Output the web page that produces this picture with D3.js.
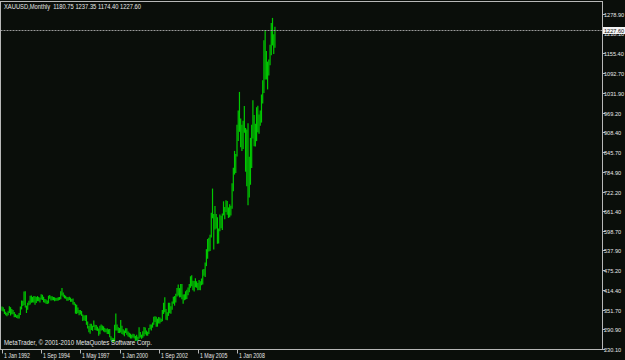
<!DOCTYPE html>
<html lang="en">
<head>
    <meta charset="UTF-8">
    <title>XAUUSD,Monthly</title>
    <script src="https://d3js.org/d3.v7.min.js"></script>
    <style>
        body {
            margin: 0;
            padding: 0;
            background: #0a0e0a;
        }
        svg text {
            font-family: "Liberation Sans", Arial, sans-serif;
            fill: #e8e8e8;
        }
        .ylab { font-size: 5.6px; }
        .xlab { font-size: 6.4px; }
    </style>
</head>
<body>
    <div id="chart"></div>

    <script>
        // monthly bars, starting Jan 1992 (index 0)
        const highs = [
            360, 358, 352, 344, 340, 345, 361, 358, 352, 349, 343, 337,   // 1992
            333, 334, 340, 360, 379, 378, 407, 408, 363, 372, 378, 394,   // 1993
            395, 390, 393, 392, 390, 393, 390, 388, 399, 397, 391, 384,   // 1994
            382, 379, 394, 396, 392, 392, 390, 389, 387, 388, 389, 390,   // 1995
            408, 418, 404, 397, 394, 390, 389, 391, 388, 384, 385, 374,   // 1996
            369, 366, 357, 349, 349, 346, 335, 332, 333, 333, 313, 299,   // 1997
            306, 306, 300, 316, 303, 302, 297, 291, 300, 304, 301, 298,   // 1998
            293, 290, 292, 289, 290, 267, 262, 261, 303, 338, 304, 295,   // 1999
            293, 318, 300, 289, 285, 292, 292, 282, 278, 275, 272, 275,   // 2000
            273, 268, 272, 265, 295, 280, 272, 283, 296, 294, 285, 281,   // 2001
            293, 304, 304, 310, 328, 330, 328, 322, 327, 326, 322, 349,   // 2002
            372, 389, 352, 342, 372, 372, 361, 376, 391, 393, 400, 418,   // 2003
            429, 418, 431, 431, 398, 399, 408, 413, 420, 431, 455, 458,   // 2004
            441, 440, 449, 439, 434, 443, 439, 448, 476, 478, 498, 540,   // 2005
            572, 576, 585, 654, 730, 650, 675, 650, 640, 605, 649, 645,   // 2006
            652, 690, 672, 693, 691, 671, 681, 676, 747, 795, 848, 838,   // 2007
            930, 975, 1033, 950, 930, 943, 989, 920, 915, 935, 830, 889,  // 2008
            930, 1007, 961, 933, 985, 990, 962, 975, 1025, 1070, 1195, 1227, // 2009
            1161, 1128, 1135, 1181, 1249, 1265, 1214, 1237.35             // 2010
        ];
        const lows = [
            350, 348, 340, 336, 333, 336, 343, 335, 339, 339, 330, 330,
            327, 326, 326, 337, 354, 365, 368, 360, 343, 353, 367, 370,
            375, 376, 376, 369, 374, 380, 380, 376, 385, 384, 377, 375,
            372, 371, 373, 388, 382, 383, 383, 380, 381, 381, 382, 384,
            386, 398, 394, 389, 388, 381, 381, 384, 378, 378, 370, 367,
            341, 340, 343, 336, 338, 334, 318, 320, 318, 306, 294, 283,
            278, 290, 287, 299, 290, 288, 287, 272, 276, 288, 289, 285,
            283, 283, 277, 277, 267, 257, 252, 252, 254, 288, 288, 280,
            280, 282, 277, 275, 270, 280, 275, 269, 267, 263, 263, 266,
            263, 255, 256, 255, 262, 266, 262, 265, 270, 276, 272, 272,
            277, 292, 288, 297, 306, 315, 300, 300, 310, 310, 315, 317,
            340, 345, 322, 320, 334, 342, 341, 353, 372, 366, 376, 395,
            398, 392, 392, 386, 372, 383, 385, 387, 399, 408, 422, 427,
            414, 410, 424, 422, 414, 415, 414, 430, 432, 460, 456, 490,
            513, 536, 537, 580, 640, 542, 605, 608, 560, 561, 599, 609,
            603, 649, 637, 660, 651, 641, 643, 649, 670, 725, 777, 782,
            834, 882, 911, 863, 851, 857, 908, 786, 740, 681, 705, 745,
            798, 890, 866, 865, 882, 910, 905, 930, 940, 1000, 1033, 1075,
            1075, 1044, 1088, 1120, 1151, 1182, 1155, 1174.40
        ];

        const title = "XAUUSD,Monthly  1180.75 1237.35 1174.40 1227.60";
        const credit = "MetaTrader, © 2001-2010 MetaQuotes Software Corp.";
        const lastClose = 1227.60;

        const priceTicks = [1278.90, 1218.10, 1155.40, 1092.70, 1031.90, 969.20, 908.40,
            845.70, 784.90, 722.20, 661.40, 598.70, 537.90, 475.20, 414.40, 351.70, 290.90, 230.10];

        const timeTickIndex = [0, 32, 64, 96, 128, 160, 192];
        const timeTickLabels = ["1 Jan 1992", "1 Sep 1994", "1 May 1997", "1 Jan 2000",
            "1 Sep 2002", "1 May 2005", "1 Jan 2008"];

        const width = 625;
        const height = 360;
        const frameL = 0.5, frameR = 602.5, frameT = 1.5, frameB = 349.5;

        const svg = d3.select("#chart")
            .append("svg")
            .attr("width", width)
            .attr("height", height)
            .style("display", "block");

        svg.append("rect")
            .attr("width", width).attr("height", height)
            .attr("fill", "#0a0e0a");

        const x = d3.scaleLinear().domain([0, 192]).range([2, 237]);
        const y = d3.scaleLinear().domain([230.10, 1278.90]).range([348.5, 14]);

        // squeeze a text horizontally (terminal font is narrower than ours)
        function squeeze(sel, k) {
            sel.each(function () {
                const w = this.getComputedTextLength();
                d3.select(this)
                    .attr("textLength", w * k)
                    .attr("lengthAdjust", "spacingAndGlyphs");
            });
        }

        // bars (high-low)
        svg.append("g")
            .selectAll("line")
            .data(highs.map((h, i) => ({ i, h, l: lows[i] })))
            .enter().append("line")
            .attr("x1", d => x(d.i))
            .attr("x2", d => x(d.i))
            .attr("y1", d => y(d.l) + 0.5)
            .attr("y2", d => y(d.h) - 0.5)
            .attr("stroke", "#00c800")
            .attr("stroke-width", 1.2);

        // current price line
        const ly = Math.round(y(lastClose));
        svg.append("line")
            .attr("x1", frameL).attr("x2", frameR)
            .attr("y1", ly + 0.5).attr("y2", ly + 0.5)
            .attr("stroke", "#9a9a9a")
            .attr("stroke-width", 1)
            .attr("stroke-dasharray", "2,1");

        // frame
        svg.append("rect")
            .attr("x", frameL).attr("y", frameT)
            .attr("width", frameR - frameL).attr("height", frameB - frameT)
            .attr("fill", "none")
            .attr("stroke", "#b8b8b8")
            .attr("stroke-width", 1);

        // price axis
        const yAx = svg.append("g");
        priceTicks.forEach(v => {
            const py = Math.round(y(v)) + 0.5;
            yAx.append("line")
                .attr("x1", frameR).attr("x2", frameR + 3)
                .attr("y1", py).attr("y2", py)
                .attr("stroke", "#b8b8b8");
            yAx.append("text")
                .attr("class", "ylab")
                .attr("x", 604)
                .attr("y", py + 2)
                .text(v.toFixed(2));
        });

        // last price marker
        svg.append("rect")
            .attr("x", 603).attr("y", ly - 3)
            .attr("width", 22).attr("height", 7)
            .attr("fill", "#f4f4f4");
        svg.append("text")
            .attr("class", "ylab")
            .attr("x", 604).attr("y", ly + 2.5)
            .style("fill", "#101010")
            .text(lastClose.toFixed(2));

        // time axis
        const xAx = svg.append("g");
        timeTickIndex.forEach((m, k) => {
            const px = Math.round(x(m)) + 0.5;
            xAx.append("line")
                .attr("x1", px).attr("x2", px)
                .attr("y1", frameB).attr("y2", frameB + 4)
                .attr("stroke", "#b8b8b8");
            xAx.append("text")
                .attr("class", "xlab")
                .attr("x", px + 1.5)
                .attr("y", 357.5)
                .text(timeTickLabels[k])
                .call(squeeze, 0.82);
        });

        svg.append("text")
            .attr("class", "xlab")
            .attr("x", 4).attr("y", 9)
            .attr("xml:space", "preserve")
            .style("white-space", "pre")
            .attr("textLength", 137)
            .attr("lengthAdjust", "spacingAndGlyphs")
            .text(title);

        svg.append("text")
            .attr("class", "xlab")
            .attr("x", 4).attr("y", 345)
            .attr("textLength", 148)
            .attr("lengthAdjust", "spacingAndGlyphs")
            .text(credit);
    </script>
</body>
</html>
